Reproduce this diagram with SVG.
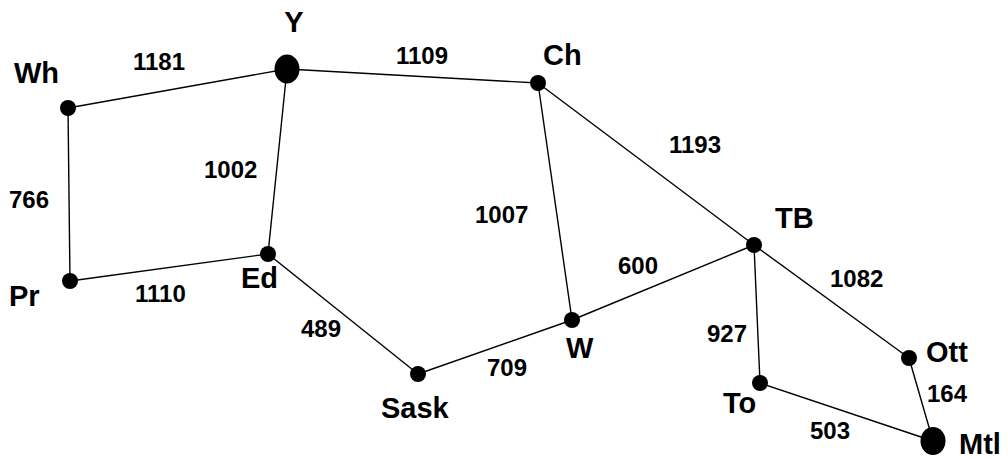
<svg xmlns="http://www.w3.org/2000/svg" width="1008" height="458" viewBox="0 0 1008 458">
<style>
.e{stroke:#000;stroke-width:1.4;fill:none}
.n{fill:#000}
.lb{font-family:"Liberation Sans",Arial,sans-serif;font-weight:bold;font-size:29px;fill:#000}
.w{font-family:"Liberation Sans",Arial,sans-serif;font-weight:bold;font-size:24px;fill:#000}
</style>
<rect width="1008" height="458" fill="#fff"/>
<g id="connectors">
<line class="e" x1="68" y1="108" x2="287" y2="69"/>
<line class="e" x1="68" y1="108" x2="70" y2="281"/>
<line class="e" x1="70" y1="281" x2="268" y2="254"/>
<line class="e" x1="287" y1="69" x2="268" y2="254"/>
<line class="e" x1="287" y1="69" x2="538" y2="83"/>
<line class="e" x1="268" y1="254" x2="418" y2="374"/>
<line class="e" x1="418" y1="374" x2="572" y2="320"/>
<line class="e" x1="538" y1="83" x2="572" y2="320"/>
<line class="e" x1="538" y1="83" x2="754" y2="245"/>
<line class="e" x1="572" y1="320" x2="754" y2="245"/>
<line class="e" x1="754" y1="245" x2="909" y2="358"/>
<line class="e" x1="754" y1="245" x2="760" y2="383"/>
<line class="e" x1="760" y1="383" x2="933" y2="441"/>
<line class="e" x1="909" y1="358" x2="933" y2="441"/>
<text class="w" x="133" y="70">1181</text>
<text class="w" x="9" y="208">766</text>
<text class="w" x="204" y="178">1002</text>
<text class="w" x="135" y="302">1110</text>
<text class="w" x="396" y="64">1109</text>
<text class="w" x="475" y="223">1007</text>
<text class="w" x="669" y="153">1193</text>
<text class="w" x="618" y="274">600</text>
<text class="w" x="301" y="337">489</text>
<text class="w" x="487" y="376">709</text>
<text class="w" x="830" y="287">1082</text>
<text class="w" x="707" y="342">927</text>
<text class="w" x="927" y="402">164</text>
<text class="w" x="810" y="439">503</text>
</g>
<g id="Wh"><circle class="n" cx="68" cy="108" r="8"/><text class="lb" x="14" y="83">Wh</text></g>
<g id="Y"><ellipse class="n" cx="287" cy="69" rx="12.5" ry="14.5"/><text class="lb" x="294" y="32" text-anchor="middle">Y</text></g>
<g id="Pr"><circle class="n" cx="70" cy="281" r="8"/><text class="lb" x="9" y="306">Pr</text></g>
<g id="Ed"><circle class="n" cx="268" cy="254" r="8"/><text class="lb" x="241" y="288">Ed</text></g>
<g id="Ch"><circle class="n" cx="538" cy="83" r="8"/><text class="lb" x="543" y="65">Ch</text></g>
<g id="W"><circle class="n" cx="572" cy="320" r="8"/><text class="lb" x="566" y="358">W</text></g>
<g id="Sask"><circle class="n" cx="418" cy="374" r="8"/><text class="lb" x="381" y="418">Sask</text></g>
<g id="TB"><circle class="n" cx="754" cy="245" r="8"/><text class="lb" x="775" y="228">TB</text></g>
<g id="Ott"><circle class="n" cx="909" cy="358" r="8"/><text class="lb" x="926" y="362">Ott</text></g>
<g id="To"><circle class="n" cx="760" cy="383" r="8"/><text class="lb" x="723" y="413">To</text></g>
<g id="Mtl"><ellipse class="n" cx="933" cy="441" rx="12.5" ry="14"/><text class="lb" x="959" y="454">Mtl</text></g>
</svg>
